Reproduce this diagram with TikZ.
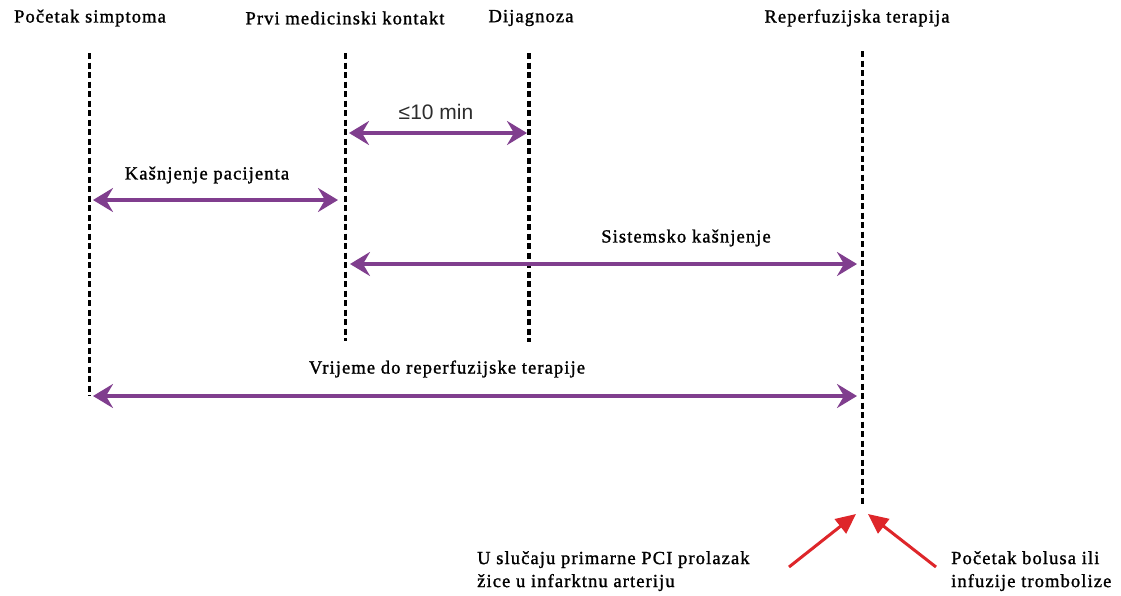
\documentclass[tikz,border=0pt]{standalone}
\usepackage{fontspec}
\setmainfont{Liberation Serif}[LetterSpace=6,FakeBold=1.3]
\newfontfamily\lsans{Liberation Sans}
\usetikzlibrary{arrows.meta}
\definecolor{purp}{RGB}{128,62,142}
\definecolor{redar}{RGB}{222,38,42}
\definecolor{dgray}{RGB}{45,45,45}
\begin{document}
\begin{tikzpicture}[x=1pt,y=-1pt,
  vdash/.style={black,line width=3pt,dash pattern=on 6pt off 3.5pt},
  dbl/.style={purp,line width=4.5pt,{Stealth[length=20pt,width=24pt,inset=7pt]}-{Stealth[length=20pt,width=24pt,inset=7pt]}},
  redarrow/.style={redar,line width=3pt,-{Triangle[length=20pt,width=18pt]}},
  lbl/.style={inner sep=0pt,font=\fontsize{18.5}{22}\selectfont},
  blbl/.style={inner sep=0pt,align=left,anchor=north west,font=\fontsize{18.5}{23}\selectfont}]
\useasboundingbox (0,0) rectangle (1121,595);
% headings
\node[lbl] (h1) at (90,18) {Početak simptoma};
\node[lbl] (h2) at (345,18) {Prvi medicinski kontakt};
\node[lbl] (h3) at (531,18) {Dijagnoza};
\node[lbl] (h4) at (857,18) {Reperfuzijska terapija};
% vertical dashed lines
\coordinate (t1) at (89,53); \coordinate (b1) at (89,396);
\coordinate (t2) at (345,53); \coordinate (b2) at (345,341);
\coordinate (t3) at (529,53); \coordinate (b3) at (529,342);
\coordinate (t4) at (862,51); \coordinate (b4) at (862,506);
\draw[vdash] (t1) -- (b1);
\draw[vdash] (t2) -- (b2);
\draw[vdash,line width=4pt] (t3) -- (b3);
\draw[vdash] (t4) -- (b4);
% double arrows
\coordinate (a1l) at (349,133); \coordinate (a1r) at (527,133);
\draw[dbl] (a1l) -- (a1r);
\node[inner sep=0pt,text=dgray,font=\lsans\fontsize{21}{24}\selectfont] (m10) at (436,112) {≤10 min};
\coordinate (a2l) at (93,200); \coordinate (a2r) at (338,200);
\draw[dbl] (a2l) -- (a2r);
\node[lbl] (kp) at (207,175) {Kašnjenje pacijenta};
\coordinate (a3l) at (350,264); \coordinate (a3r) at (857,264);
\draw[dbl] (a3l) -- (a3r);
\node[lbl] (sk) at (686,238) {Sistemsko kašnjenje};
\coordinate (a4l) at (93,396); \coordinate (a4r) at (857,396);
\draw[dbl] (a4l) -- (a4r);
\node[lbl] (vr) at (447,369) {Vrijeme do reperfuzijske terapije};
% bottom notes
\node[blbl] (n1) at (477,551) {U slučaju primarne PCI prolazak\\žice u infarktnu arteriju};
\node[blbl] (n2) at (951,551) {Početak bolusa ili\\infuzije trombolize};
\coordinate (r1s) at (789,567); \coordinate (r1e) at (856,514);
\coordinate (r2s) at (936,567); \coordinate (r2e) at (868,514);
\draw[redarrow] (r1s) -- (r1e);
\draw[redarrow] (r2s) -- (r2e);
\end{tikzpicture}
\end{document}
